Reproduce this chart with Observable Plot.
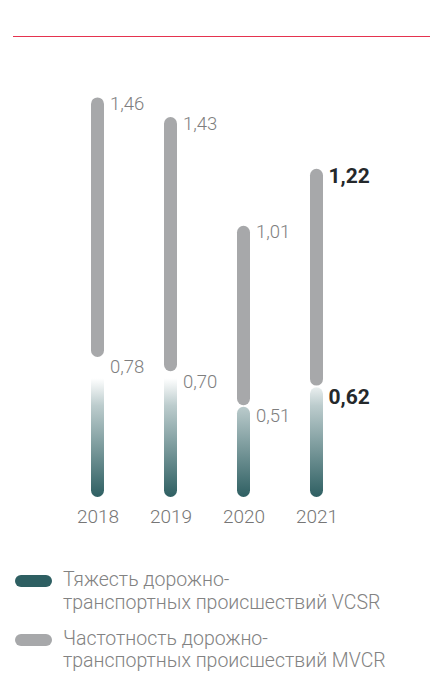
<!DOCTYPE html>
<html>
<head>
<meta charset="utf-8">
<script src="https://cdn.jsdelivr.net/npm/d3@7"></script>
<script src="https://cdn.jsdelivr.net/npm/@observablehq/plot@0.6"></script>
<style>
  html, body { margin: 0; padding: 0; background: #fff; }
  body { width: 430px; height: 673px; position: relative; overflow: hidden; font-family: Roboto, "Noto Sans", sans-serif; }
  #topRule { position: absolute; left: 13px; right: 0; top: 36px; border-top: 1.5px solid #e5334f; }
  #chart { position: absolute; left: 0; top: 0; }
  #legend { position: absolute; left: 15px; top: 569px; color: #828282; font-weight: 300; font-size: 19.5px; line-height: 22.5px; }
  .item { display: flex; align-items: flex-start; margin-bottom: 13.5px; }
  .sw { width: 37px; height: 12px; border-radius: 6px; margin-top: 6px; margin-right: 11px; flex: none; }
</style>
</head>
<body>
<div id="topRule"></div>
<div id="chart"></div>
<div id="legend"></div>
<script>
const years = ["2018", "2019", "2020", "2021"];
const vcsr = [0.78, 0.70, 0.51, 0.62];   // Тяжесть ДТП VCSR
const mvcr = [1.46, 1.43, 1.01, 1.22];   // Частотность ДТП MVCR
const legendLabels = [
  "Тяжесть дорожно-<br>транспортных происшествий VCSR",
  "Частотность дорожно-<br>транспортных происшествий MVCR"
];
const highlightYear = "2021";

const teal = "#2e5f62";
const grey = "#a7a8aa";

const rows = years.map((year, i) => ({
  year,
  vcsr: vcsr[i],
  mvcr: mvcr[i],
  total: vcsr[i] + mvcr[i]
}));
const fmt = v => v.toFixed(2).replace(".", ",");

const gradient = (index, scales) => {
  const defs = d3.create("svg:defs");
  const g = defs.append("linearGradient")
    .attr("id", "tealGrad")
    .attr("gradientUnits", "userSpaceOnUse")
    .attr("x1", 0).attr("x2", 0)
    .attr("y1", scales.y(0.665)).attr("y2", scales.y(0));
  g.append("stop").attr("offset", 0).attr("stop-color", "#ffffff");
  g.append("stop").attr("offset", 0.23).attr("stop-color", "#bccccd");
  g.append("stop").attr("offset", 1).attr("stop-color", teal);
  return defs.node();
};

const chart = Plot.plot({
  width: 430,
  height: 545,
  marginLeft: 53.2,
  marginRight: 68.8,
  marginTop: 51,
  marginBottom: 48,
  style: { fontFamily: "Roboto, 'Noto Sans', sans-serif", background: "transparent" },
  x: { domain: years, paddingInner: 0.8195, paddingOuter: 0.5, align: 0.5, label: null },
  y: { domain: [0, 2.5], axis: null },
  marks: [
    gradient,
    Plot.barY(rows, { x: "year", y1: 0, y2: "vcsr", fill: "url(#tealGrad)", rx: 6.65, insetTop: 0.8 }),
    Plot.barY(rows, { x: "year", y1: "vcsr", y2: "total", fill: grey, rx: 6.65, insetBottom: 0.8 }),
    // regular labels
    Plot.text(rows.filter(d => d.year !== highlightYear), {
      x: "year", y: "total", text: d => fmt(d.mvcr),
      textAnchor: "start", lineAnchor: "top", dx: 12, dy: -1,
      fontSize: 18.5, fontWeight: 300, fill: "#7e7e7e"
    }),
    Plot.text(rows.filter(d => d.year !== highlightYear), {
      x: "year", y: "vcsr", text: d => fmt(d.vcsr),
      textAnchor: "start", lineAnchor: "top", dx: 12, dy: 2,
      fontSize: 18.5, fontWeight: 300, fill: "#7e7e7e"
    }),
    // highlighted labels
    Plot.text(rows.filter(d => d.year === highlightYear), {
      x: "year", y: "total", text: d => fmt(d.mvcr),
      textAnchor: "start", lineAnchor: "top", dx: 11.5, dy: -1,
      fontSize: 21, fontWeight: 700, fill: "#24282b"
    }),
    Plot.text(rows.filter(d => d.year === highlightYear), {
      x: "year", y: "vcsr", text: d => fmt(d.vcsr),
      textAnchor: "start", lineAnchor: "top", dx: 11.5, dy: 2,
      fontSize: 21, fontWeight: 700, fill: "#24282b"
    }),
    Plot.axisX({ tickSize: 0, tickPadding: 12, fontSize: 19, fontWeight: 300, fill: "#767676", label: null })
  ]
});
document.getElementById("chart").appendChild(chart);

const legend = document.getElementById("legend");
[teal, grey].forEach((c, i) => {
  const item = document.createElement("div");
  item.className = "item";
  item.innerHTML = `<span class="sw" style="background:${c}"></span><span>${legendLabels[i]}</span>`;
  legend.appendChild(item);
});
</script>
</body>
</html>
